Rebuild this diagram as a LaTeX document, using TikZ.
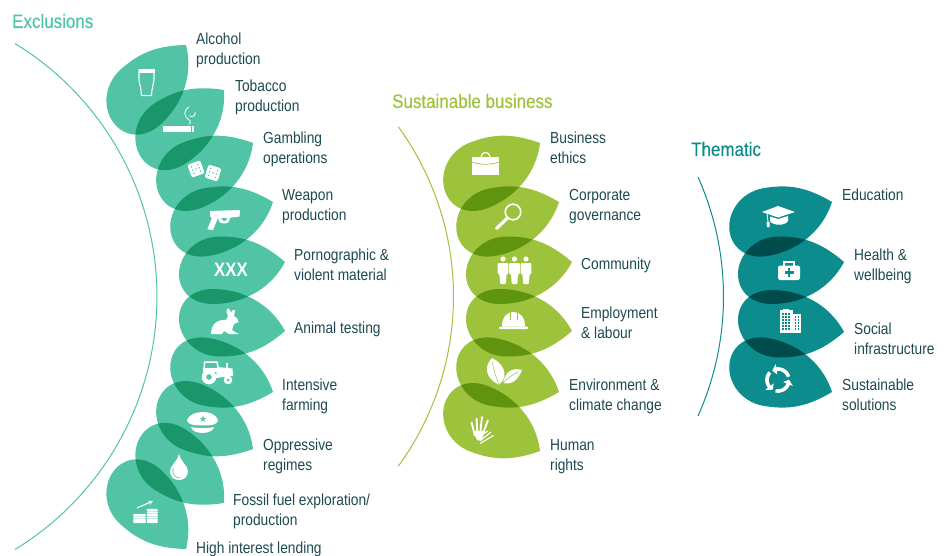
\documentclass[tikz,border=0pt]{standalone}
\usepackage{fontspec}
\setmainfont[FakeStretch=0.86]{Liberation Sans}
\newfontfamily\ttlfont[FakeStretch=0.87,FakeBold=0.35]{Liberation Sans}
\definecolor{mint}{HTML}{50C4A5}
\definecolor{lime}{HTML}{9DC23C}
\definecolor{teal2}{HTML}{0C8C8C}
\definecolor{inkc}{HTML}{1C4A50}
\newcommand{\leafshape}{(0,0) .. controls (-22,-19) and (-40,-25.5) .. (-65,-25.5) .. controls (-90,-25.5) and (-106,-6) .. (-106,12) .. controls (-106,30) and (-92,42) .. (-72,42) .. controls (-46,42) and (-16,30) .. (0,0) -- cycle}
\newcommand{\leafup}[4]{\fill[#1,shift={(#2,#3)},rotate=#4] \leafshape;}
\newcommand{\leafdn}[4]{\fill[#1,shift={(#2,#3)},rotate=-#4,yscale=-1] \leafshape;}
\newcommand{\biglabel}[4]{\node[lab,anchor=west] (#1) at (#2,#3) {#4};}
\newcommand{\bigarc}[4]{\draw[#1,line width=1pt] plot[domain=-#4:#4,samples=70] ({#2+#3*cos(\x)},{296.5+#3*sin(\x)});}
\newcommand{\die}[3]{\begin{scope}[shift={(#1,#2)},rotate=#3]
\fill[white,rounded corners=1.5] (-6.8,-6.8) rectangle (6.8,6.8);
\foreach \p/\q in {-3.5/-3.5,3.5/-3.5,0/0,-3.5/3.5,3.5/3.5,-3.5/0,3.5/0} \fill[mint] (\p,\q) circle (0.8);
\end{scope}}
\newcommand{\person}[1]{\begin{scope}[shift={(#1,0)}]
\fill[white] (0,259) circle (2.6);
\fill[white,rounded corners=1] (-5.4,263) -- (5.4,263) -- (5.4,274) -- (3.6,274) -- (2.8,284) -- (-2.8,284) -- (-3.6,274) -- (-5.4,274) -- cycle;
\end{scope}}
\tikzset{
 lab/.style={text=inkc,font=\fontsize{16}{20}\selectfont,align=left,inner sep=0pt},
 ttl/.style={font=\ttlfont\fontsize{19.5}{22}\selectfont,inner sep=0pt,anchor=west},
}
\begin{document}
\begin{tikzpicture}[x=1pt,y=-1pt]
\useasboundingbox (0,0) rectangle (947,556);
% arcs
\bigarc{mint}{-139.4}{296.4}{58.6}
\bigarc{lime}{164.8}{288.7}{36}
\bigarc{teal2}{430.8}{292.7}{24.1}
% leaves
\begin{scope}[blend mode=multiply]
\leafup{mint}{186}{45}{42}
\leafup{mint}{224}{90}{32}
\leafup{mint}{253}{143}{21}
\leafup{mint}{273}{202}{10}
\leafup{mint}{285}{262}{0}
\leafdn{mint}{285}{331}{0}
\leafdn{mint}{273}{392}{10}
\leafdn{mint}{253}{449}{21}
\leafdn{mint}{224}{503}{32}
\leafdn{mint}{186}{549}{42}
\leafup{lime}{540}{143}{21}
\leafup{lime}{559}{202}{10}
\leafup{lime}{572}{262}{0}
\leafdn{lime}{572}{331}{0}
\leafdn{lime}{559}{392}{10}
\leafdn{lime}{540}{451}{21}
\leafup{teal2}{832}{202}{10}
\leafup{teal2}{844}{262}{0}
\leafdn{teal2}{844}{332}{0}
\leafdn{teal2}{832}{392}{10}
\end{scope}
% titles
\node[ttl,text=mint] (t1) at (12,21) {Exclusions};
\node[ttl,text=lime] (t2) at (392,101) {Sustainable business};
\node[ttl,text=teal2] (t3) at (691,149) {Thematic};
% labels
\biglabel{a1}{196}{50}{Alcohol\\production}
\biglabel{a2}{235}{97.5}{Tobacco\\production}
\biglabel{a3}{263}{149.5}{Gambling\\operations}
\biglabel{a4}{282}{206.5}{Weapon\\production}
\biglabel{a5}{294}{265}{Pornographic \&\\violent material}
\biglabel{a6}{294}{329.5}{Animal testing}
\biglabel{a7}{282}{396}{Intensive\\farming}
\biglabel{a8}{263}{456}{Oppressive\\regimes}
\biglabel{a9}{233}{511}{Fossil fuel exploration/\\production}
\biglabel{a10}{196}{549.5}{High interest lending}
\biglabel{b1}{550}{147.5}{Business\\ethics}
\biglabel{b2}{569}{207}{Corporate\\governance}
\biglabel{b3}{581}{265}{Community}
\biglabel{b4}{581}{323}{Employment\\\& labour}
\biglabel{b5}{569}{396}{Environment \&\\climate change}
\biglabel{b6}{550}{457}{Human\\rights}
\biglabel{c1}{842}{195}{Education}
\biglabel{c2}{854}{266}{Health \&\\wellbeing}
\biglabel{c3}{854}{339}{Social\\infrastructure}
\biglabel{c4}{842}{395}{Sustainable\\solutions}
% beer
\fill[white] (138.5,69) rectangle (154.5,73);
\draw[white,line width=1.1pt,line join=round] (139,70) -- (154,70) -- (154,79) .. controls (154,84) and (152,86) .. (152,90) -- (151.5,95.5) -- (141.5,95.5) -- (141,90) .. controls (141,86) and (139,84) .. (139,79) -- cycle;
% cigarette
\fill[white] (163,126) rectangle (191,132);
\fill[white] (191.8,126) rectangle (194,132);
\draw[white,line width=0.8pt] (189,107) .. controls (183,111) and (184,116) .. (188,119) .. controls (191,121) and (191,123) .. (189,124.5);
\draw[white,line width=0.8pt] (189,116) .. controls (194,118) and (196,114) .. (195,112);
% dice
\die{196}{169}{20}
\die{213}{173}{-18}
% gun
\fill[white] (210,211) -- (240,210) -- (239.5,216.5) -- (230,217.7) -- (229,222) .. controls (226,224) and (222,224) .. (219.5,222) -- (218,218) -- (213,230) -- (207.3,229.3) -- (212,218) -- (210,216.5) -- cycle;
\fill[mint] (221.5,218) .. controls (222,221) and (225,222) .. (226.5,219.5) -- (226.5,218) -- cycle;
% xxx
\node[text=white,font=\fontsize{19.5}{20}\bfseries\selectfont,inner sep=0pt] (xxx) at (231,270) {XXX};
% rabbit
\fill[white] (211,334) .. controls (211,324) and (218,319) .. (226,320) -- (228,316) .. controls (226,312) and (226,309) .. (228,308) .. controls (230,309) and (230,311) .. (231,313) .. controls (232,310) and (234,309) .. (235,310) .. controls (235,313) and (234,315) .. (234,316) .. controls (237,318) and (239,320) .. (238.5,322) -- (234,324) -- (232,330) -- (235,332) -- (239,334) -- (229,334) -- (224,331) -- (222,334) -- cycle;
% tractor
\fill[white] (209,377) circle (7.3);
\fill[mint] (209,377) circle (2.8);
\fill[white] (228,380) circle (4.3);
\fill[mint] (228,380) circle (1.5);
\draw[white,line width=1.5pt] (204,372) -- (204.5,362) -- (217,362) -- (219,372);
\fill[white] (203,368) rectangle (219,372);
\fill[white] (217,367) -- (232.5,368.5) -- (233,376) -- (216,378) -- cycle;
\fill[white] (226,363) rectangle (228,368);
% hat
\fill[white] (187,420) .. controls (189,414) and (197,412) .. (203,412) .. controls (209,412) and (216,414) .. (218,420) .. controls (218,424) and (213,425.5) .. (203,425.5) .. controls (192,425.5) and (187,424) .. (187,420) -- cycle;
\fill[white] (191,427) .. controls (198,428.5) and (208,428.5) .. (214,427) .. controls (213,431) and (208,433) .. (202.5,433) .. controls (197,433) and (192,431) .. (191,427) -- cycle;
\fill[mint] (203,419) +(270:3.5) -- +(126:3.5) -- +(342:3.5) -- +(198:3.5) -- +(54:3.5) -- cycle;
% drop
\fill[white] (179,454) .. controls (177,462) and (170,466) .. (170,471) .. controls (170,477) and (174,480) .. (179,480) .. controls (184,480) and (188,477) .. (188,471) .. controls (188,466) and (181,462) .. (179,454) -- cycle;
\draw[mint,line width=0.6pt] (173,468) .. controls (172,474) and (175,478) .. (180,478);
% coins
\foreach \yy in {515,517.5,520,522} \fill[white,rounded corners=1] (133,\yy-1.2) rectangle (146,\yy+1);
\foreach \yy in {510,512.5,515,517.5,520,522} \fill[white,rounded corners=1] (146.5,\yy-1.2) rectangle (158,\yy+1);
\draw[white,line width=1.1pt,-stealth] (137,508) -- (153,501);
% briefcase
\draw[white,line width=1.2pt] (481,157) .. controls (481,151) and (490,151) .. (490,157);
\fill[white] (472,157) rectangle (499,175);
\draw[lime,line width=0.7pt] (472,162) .. controls (480,165) and (491,165) .. (499,162);
% magnifier
\draw[white,line width=1.6pt] (513,212) circle (7.8);
\draw[white,line width=3.2pt,line cap=round] (507.5,218) -- (496.5,228.5);
% people
\person{503}\person{514.5}\person{526}
% helmet
\fill[white] (502,326.5) .. controls (502,317) and (507,312) .. (513.5,312) .. controls (520,312) and (525,317) .. (525,326.5) -- cycle;
\fill[white,rounded corners=0.8] (499,326.7) rectangle (528,329);
\draw[lime,line width=0.6pt] (510,313) -- (510,320);
\draw[lime,line width=0.6pt] (517,313) -- (517,320);
% plant leaves
\fill[white] (492,358) .. controls (484,366) and (485,378) .. (498.5,384.5) .. controls (507,380) and (508,366) .. (492,358) -- cycle;
\fill[white] (522,370) .. controls (512,367) and (505,372) .. (503,383) .. controls (512,385) and (518,380) .. (522,370) -- cycle;
\draw[lime,line width=0.5pt] (492,362) .. controls (494,370) and (496,378) .. (499,384);
\draw[lime,line width=0.5pt] (518,372) .. controls (512,375) and (508,378) .. (503,383);
% hands
\foreach \xa/\ya/\xb/\yb in {471.5/422/475/436, 476.5/418/477.5/436, 482/416.5/480/436, 488/420/482/436}
 \draw[white,line width=1.9pt] (\xa,\ya) -- (\xb,\yb);
\fill[white] (473,431) -- (485,431) -- (481,441) -- (477,440) -- cycle;
\foreach \xa/\ya/\xb/\yb in {480/443.5/493.5/435.5, 481/440/491/432, 478/437/488/431}
 \draw[white,line width=1.1pt] (\xa,\ya) -- (\xb,\yb);
% mortarboard
\fill[white] (762,212) -- (778,206) -- (795,212) -- (778,217.5) -- cycle;
\fill[white] (770,216.5) -- (778,219) -- (788,216) -- (788,221) .. controls (785,226) and (773,226) .. (770,221) -- cycle;
\draw[white,line width=0.9pt] (767,213) -- (768,222);
\fill[white] (766.5,222) -- (769.5,222) -- (769.5,227) -- (767,227) -- cycle;
% medkit
\draw[white,line width=1.2pt] (784,266) -- (784,262) -- (794,262) -- (794,266);
\fill[white,rounded corners=1.6] (778,265.5) rectangle (800,280);
\fill[teal2] (787.6,268) rectangle (790.4,277);
\fill[teal2] (784.5,271) rectangle (793.5,274);
% building
\fill[white] (780,310) rectangle (793,333);
\fill[white] (792,314) rectangle (801,333);
\fill[white] (783,309) rectangle (789,311);
\foreach \cx in {782,785,788}
 \foreach \cy in {313,316,319,322,325,328} \fill[teal2] (\cx,\cy) rectangle +(1.7,1.6);
\foreach \cx in {794.5,797.5}
 \foreach \cy in {316,319,322,325,328} \fill[teal2] (\cx,\cy) rectangle +(1.7,1.6);
% recycle
\foreach \a in {0,120,240}{
\begin{scope}[shift={(778,380)},rotate=\a]
\draw[white,line width=3.6pt] plot[domain=15:103,samples=16] ({11*cos(\x)},{11*sin(\x)});
\fill[white] (22:5.5) -- (22:16) -- (-2:11) -- cycle;
\end{scope}}
\end{tikzpicture}
\end{document}
